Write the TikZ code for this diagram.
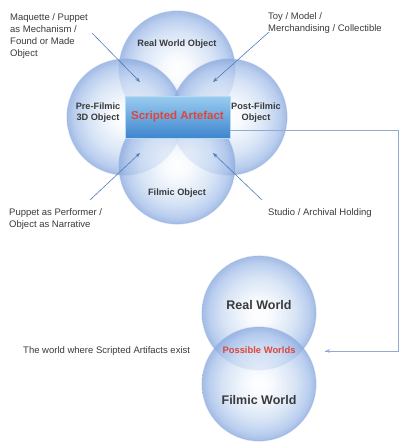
\documentclass[tikz,border=0pt]{standalone}
\usepackage{fontspec}
\setmainfont{Liberation Sans}
\usetikzlibrary{arrows.meta}
\definecolor{txt}{HTML}{3A3A3A}
\definecolor{arr}{HTML}{4F7DB7}
\definecolor{link}{HTML}{93AAD0}
\definecolor{redt}{HTML}{E0453A}
\definecolor{sphIn}{HTML}{F4F8FD}
\definecolor{sphMid}{HTML}{CCDCF3}
\definecolor{sphOut}{HTML}{A6C0EA}
\definecolor{sphEdge}{HTML}{8EACDF}
\definecolor{boxTop}{HTML}{9ACCF0}
\definecolor{boxBot}{HTML}{3E86CF}
\pgfdeclareradialshading{sphere}{\pgfpoint{0bp}{0bp}}{color(0bp)=(white); color(6bp)=(sphIn); color(16bp)=(sphMid); color(22bp)=(sphOut); color(24.5bp)=(sphEdge); color(25bp)=(sphEdge); color(50bp)=(sphEdge)}
\begin{document}
\begin{tikzpicture}[x=1pt,y=-1pt,
  ball/.style={circle, inner sep=0pt, minimum size=116pt, shade, shading=sphere, fill opacity=0.78, draw=sphEdge, draw opacity=0.35, line width=1.2pt},
  bigball/.style={ball, minimum size=114pt},
  lab/.style={font=\fontsize{9.2}{11}\selectfont\bfseries, text=txt, align=center, inner sep=0pt},
  note/.style={font=\fontsize{9.5}{12.2}\selectfont, text=txt, align=left, inner sep=0pt},
  pointer/.style={draw=arr, line width=0.6pt, -{Stealth[length=5pt,width=3.6pt]}},
  linker/.style={draw=link, line width=0.9pt}]
\useasboundingbox (0,0) rectangle (400,442);
% four object spheres
\node[ball] (rwo) at (177,69) {};
\node[ball] (pre) at (125,117) {};
\node[ball] (post) at (229,117) {};
\node[ball] (fo) at (177,166) {};
% central box
\node[minimum width=105pt, minimum height=42pt, inner sep=0pt, top color=boxTop, bottom color=boxBot, draw=boxTop!70!white, line width=0.5pt] (sa) at (177.5,117) {};
\node[font=\fontsize{11.5}{13}\selectfont\bfseries, text=redt, inner sep=0pt] (sat) at (sa.center) {Scripted Artefact};
% sphere labels
\node[lab] (rwol) at (177,44) {Real World Object};
\node[lab] (prel) at (98,113) {Pre-Filmic\\3D Object};
\node[lab] (postl) at (256,113) {Post-Filmic\\Object};
\node[lab] (fol) at (177,193) {Filmic Object};
% annotations
\node[note, anchor=north west] (maq) at (10,13) {Maquette / Puppet\\as Mechanism /\\Found or Made\\Object};
\node[note, anchor=north west] (toy) at (268,12) {Toy / Model /\\Merchandising / Collectible};
\node[note, anchor=north west] (pup) at (9,208) {Puppet as Performer /\\Object as Narrative};
\node[note, anchor=north west] (stu) at (268,208) {Studio / Archival Holding};
% pointer ends
\coordinate (a1s) at (92,33);  \coordinate (a1e) at (140,82);
\coordinate (a2s) at (269,32); \coordinate (a2e) at (213,82);
\coordinate (a3s) at (90,200); \coordinate (a3e) at (140,153);
\coordinate (a4s) at (262,200);\coordinate (a4e) at (213,153);
\draw[pointer] (a1s) -- (a1e);
\draw[pointer] (a2s) -- (a2e);
\draw[pointer] (a3s) -- (a3e);
\draw[pointer] (a4s) -- (a4e);
% lower worlds
\node[bigball] (rw) at (259,313) {};
\node[bigball] (fw) at (259,384) {};
\node[font=\fontsize{12.5}{14}\selectfont\bfseries, text=txt, inner sep=0pt] (rwl) at (259,305) {Real World};
\node[font=\fontsize{12.5}{14}\selectfont\bfseries, text=txt, inner sep=0pt] (fwl) at (259,400) {Filmic World};
\node[font=\fontsize{9.4}{11}\selectfont\bfseries, text=redt, inner sep=0pt] (pw) at (259,350) {Possible Worlds};
\node[note, anchor=west] (wh) at (23,351) {The world where Scripted Artifacts exist};
% link from box to possible worlds
\coordinate (k1) at (398,130);
\coordinate (k2) at (398,351);
\coordinate (k3) at (325,351);
\draw[linker] (sa.east |- k1) -- (k1) -- (k2) -- (k3);
\draw[draw=link, line width=0.9pt, -{Stealth[length=5pt,width=3.6pt]}] (k2) ++(-10,0) -- (k3);
\end{tikzpicture}
\end{document}
